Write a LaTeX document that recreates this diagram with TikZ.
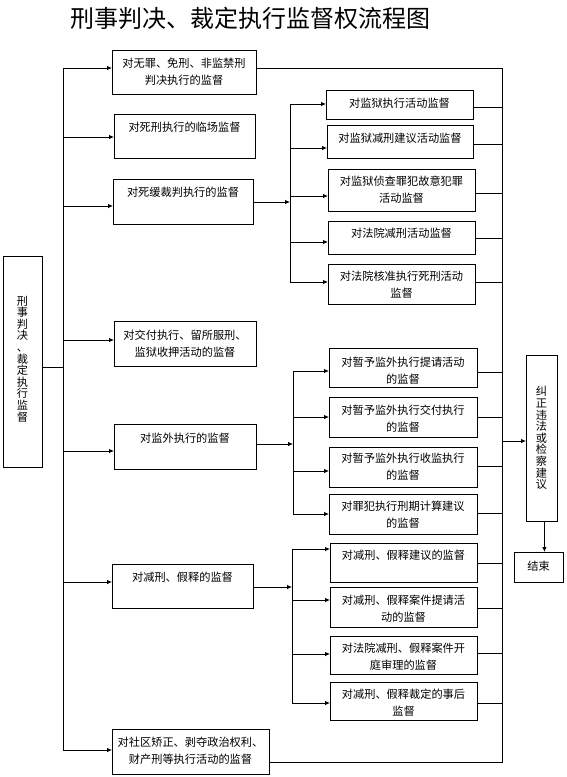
\documentclass[tikz,border=0pt]{standalone}
\usepackage{fontspec}
\setmainfont{Noto Sans CJK SC}
\usetikzlibrary{arrows.meta}
\begin{document}
\begin{tikzpicture}[x=1pt,y=-1pt,
  bx/.style={draw, line width=0.9pt, inner sep=0pt, anchor=north west},
  tx/.style={font=\fontsize{11.2}{17}\selectfont, align=center, inner sep=0pt},
  vt/.style={font=\fontsize{11.2}{11.6}\selectfont, align=center, inner sep=0pt},
  ln/.style={line width=0.8pt},
  arr/.style={line width=0.8pt, -{Latex[length=5pt,width=4.5pt]}}]
\useasboundingbox[fill=white] (0,0) rectangle (567,777);

% title
\node[font=\fontsize{24}{26}\selectfont, inner sep=0pt] (title) at (250.5,18) {刑事判决、裁定执行监督权流程图};

% boxes
\node[bx, minimum width=39pt, minimum height=211pt] (L) at (3,256) {};
\node[bx, minimum width=144pt, minimum height=44pt] (p1) at (112,50) {};
\node[bx, minimum width=141pt, minimum height=44pt] (p2) at (114,114) {};
\node[bx, minimum width=140pt, minimum height=45pt] (p3) at (113,179) {};
\node[bx, minimum width=142pt, minimum height=45pt] (p4) at (114,321) {};
\node[bx, minimum width=142pt, minimum height=45pt] (p5) at (114,424) {};
\node[bx, minimum width=141pt, minimum height=44pt] (p6) at (112,564) {};
\node[bx, minimum width=157pt, minimum height=45pt] (p7) at (112,729) {};

\node[bx, minimum width=147pt, minimum height=29pt] (a1) at (326,90) {};
\node[bx, minimum width=146pt, minimum height=33pt] (a2) at (327,125) {};
\node[bx, minimum width=147pt, minimum height=42pt] (a3) at (328,169) {};
\node[bx, minimum width=147pt, minimum height=33pt] (a4) at (328,221) {};
\node[bx, minimum width=147pt, minimum height=40pt] (a5) at (328,264) {};

\node[bx, minimum width=148pt, minimum height=39pt] (b1) at (329,348) {};
\node[bx, minimum width=148pt, minimum height=40pt] (b2) at (329,397) {};
\node[bx, minimum width=148pt, minimum height=40pt] (b3) at (329,447) {};
\node[bx, minimum width=148pt, minimum height=40pt] (b4) at (329,494) {};

\node[bx, minimum width=147pt, minimum height=39pt] (c1) at (330,543) {};
\node[bx, minimum width=147pt, minimum height=40pt] (c2) at (330,587) {};
\node[bx, minimum width=147pt, minimum height=38pt] (c3) at (330,636) {};
\node[bx, minimum width=147pt, minimum height=38pt] (c4) at (330,682) {};

\node[bx, minimum width=31pt, minimum height=166pt] (R) at (526,355) {};
\node[bx, minimum width=49pt, minimum height=30pt] (E) at (514,552) {};

% texts
\node[vt] (tL) at (22.5,359) {刑\\事\\判\\决\\、\\裁\\定\\执\\行\\监\\督};
\node[tx] (tp1) at (184,72) {对无罪、免刑、非监禁刑\\判决执行的监督};
\node[tx] (tp2) at (184.5,127) {对死刑执行的临场监督};
\node[tx] (tp3) at (183,192) {对死缓裁判执行的监督};
\node[tx] (tp4) at (185,343.5) {对交付执行、留所服刑、\\监狱收押活动的监督};
\node[tx] (tp5) at (185,438) {对监外执行的监督};
\node[tx] (tp6) at (182.5,577) {对减刑、假释的监督};
\node[tx] (tp7) at (190.5,750.5) {对社区矫正、剥夺政治权利、\\财产刑等执行活动的监督};

\node[tx] (ta1) at (399.5,103) {对监狱执行活动监督};
\node[tx] (ta2) at (400,138) {对监狱减刑建议活动监督};
\node[tx] (ta3) at (401.5,190) {对监狱侦查罪犯故意犯罪\\活动监督};
\node[tx] (ta4) at (401.5,233) {对法院减刑活动监督};
\node[tx] (ta5) at (401.5,284.5) {对法院核准执行死刑活动\\监督};

\node[tx] (tb1) at (403,370.5) {对暂予监外执行提请活动\\的监督};
\node[tx] (tb2) at (403,418.5) {对暂予监外执行交付执行\\的监督};
\node[tx] (tb3) at (403,467) {对暂予监外执行收监执行\\的监督};
\node[tx] (tb4) at (403,515) {对罪犯执行刑期计算建议\\的监督};

\node[tx] (tc1) at (403.5,555) {对减刑、假释建议的监督};
\node[tx] (tc2) at (403.5,608.5) {对减刑、假释案件提请活\\动的监督};
\node[tx] (tc3) at (403.5,656.5) {对法院减刑、假释案件开\\庭审理的监督};
\node[tx] (tc4) at (403.5,702.5) {对减刑、假释裁定的事后\\监督};

\node[vt] (tR) at (541.5,438) {纠\\正\\违\\法\\或\\检\\察\\建\\议};
\node[tx] (tE) at (538.5,566) {结束};

% main trunk
\coordinate (m1) at (63,68);
\coordinate (m2) at (63,137);
\coordinate (m3) at (63,206);
\coordinate (m4) at (63,340);
\coordinate (m5) at (63,451);
\coordinate (m6) at (63,582);
\coordinate (m7) at (63,750);
\coordinate (mL) at (63,367);
\draw[ln] (m1) -- (m7);
\draw[ln] (L.east |- mL) -- (mL);
\foreach \i in {1,...,7} { \draw[arr] (m\i) -- (p\i.west |- m\i); }

% group A
\coordinate (ga) at (290,202);
\coordinate (ga1) at (290,104);
\coordinate (ga2) at (290,148);
\coordinate (ga3) at (290,196);
\coordinate (ga4) at (290,242);
\coordinate (ga5) at (290,282);
\draw[arr] (p3.east |- ga) -- (ga);
\draw[ln] (ga1) -- (ga5);
\foreach \i in {1,...,5} { \draw[arr] (ga\i) -- (a\i.west |- ga\i); }

% group B
\coordinate (gb) at (293,444);
\coordinate (gb1) at (293,371);
\coordinate (gb2) at (293,417);
\coordinate (gb3) at (293,471);
\coordinate (gb4) at (293,514);
\draw[arr] (p5.east |- gb) -- (gb);
\draw[ln] (gb1) -- (gb4);
\foreach \i in {1,...,4} { \draw[arr] (gb\i) -- (b\i.west |- gb\i); }

% group C
\coordinate (gc) at (292,587);
\coordinate (gc1) at (292,549);
\coordinate (gc2) at (292,600);
\coordinate (gc3) at (292,654);
\coordinate (gc4) at (292,703);
\draw[arr] (p6.east |- gc) -- (gc);
\draw[ln] (gc1) -- (gc4);
\foreach \i in {1,...,4} { \draw[arr] (gc\i) -- (c\i.west |- gc\i); }

% right collector
\coordinate (r0) at (502,68);
\coordinate (rA1) at (502,107);
\coordinate (rA2) at (502,144);
\coordinate (rA3) at (502,193);
\coordinate (rA4) at (502,238);
\coordinate (rA5) at (502,282);
\coordinate (rB1) at (502,372);
\coordinate (rB2) at (502,417);
\coordinate (rB3) at (502,466);
\coordinate (rB4) at (502,513);
\coordinate (rC1) at (502,563);
\coordinate (rC2) at (502,608);
\coordinate (rC3) at (502,653);
\coordinate (rC4) at (502,703);
\coordinate (r9) at (502,762);
\coordinate (rR) at (502,441);
\draw[ln] (p1.east |- r0) -- (r0) -- (r9) -- (p7.east |- r9);
\foreach \i in {1,...,5} { \draw[ln] (a\i.east |- rA\i) -- (rA\i); }
\foreach \i in {1,...,4} { \draw[ln] (b\i.east |- rB\i) -- (rB\i); }
\foreach \i in {1,...,4} { \draw[ln] (c\i.east |- rC\i) -- (rC\i); }
\draw[arr] (rR) -- (R.west |- rR);
\draw[arr] ([xshift=2.5pt]R.south) -- ([xshift=2.5pt]R.south |- E.north);
\end{tikzpicture}
\end{document}
